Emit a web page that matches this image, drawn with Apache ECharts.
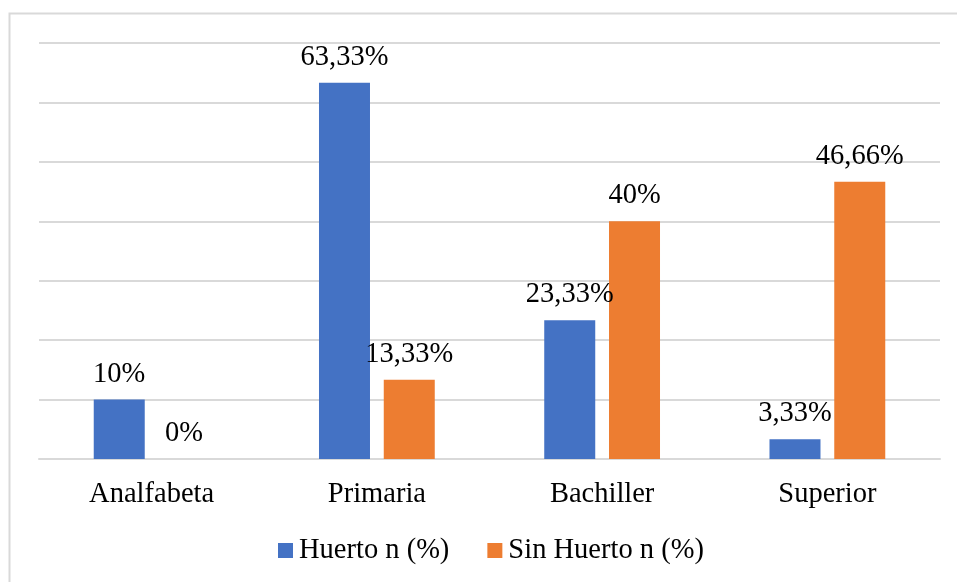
<!DOCTYPE html>
<html>
<head>
<meta charset="utf-8">
<script src="https://cdn.jsdelivr.net/npm/echarts@6/dist/echarts.min.js"></script>
<style>
  html, body { margin: 0; padding: 0; background: #fff; }
  #chart { width: 957px; height: 582px; }
</style>
</head>
<body>
<div id="chart"></div>
<script>
// categorías y valores (%)
var categories = ['Analfabeta', 'Primaria', 'Bachiller', 'Superior'];
var huerto = [10, 63.33, 23.33, 3.33];
var sinHuerto = [0, 13.33, 40, 46.66];
var huertoLabels = ['10%', '63,33%', '23,33%', '3,33%'];
var sinHuertoLabels = ['0%', '13,33%', '40%', '46,66%'];
var seriesNames = ['Huerto n (%)', 'Sin Huerto n (%)'];

var font = '"Liberation Serif", "Times New Roman", serif';
var myChart = echarts.init(document.getElementById('chart'));

function labelOpt(texts) {
  return {
    show: true,
    position: 'top',
    distance: 11,
    fontFamily: font,
    fontSize: 28.5,
    color: '#000',
    formatter: function (p) { return texts[p.dataIndex]; }
  };
}

var option = {
  backgroundColor: '#fff',
  animation: false,
  graphic: [{
    type: 'rect',
    shape: { x: 9.5, y: 13.5, width: 960, height: 600 },
    style: { fill: 'none', stroke: '#d9d9d9', lineWidth: 2 },
    silent: true
  }],
  grid: { left: 39, right: 17, top: 43, bottom: 123 },
  legend: {
    bottom: 12,
    left: 273,
    itemWidth: 15,
    itemHeight: 15,
    itemGap: 38,
    icon: 'rect',
    textStyle: { fontFamily: font, fontSize: 28.5, color: '#000', padding: [0, 0, 0, 1] },
    data: seriesNames
  },
  xAxis: {
    type: 'category',
    data: categories,
    axisLine: { lineStyle: { color: '#d9d9d9', width: 2 } },
    axisTick: { show: false },
    axisLabel: { fontFamily: font, fontSize: 28.5, color: '#000', margin: 21 }
  },
  yAxis: {
    type: 'value',
    min: 0,
    max: 70,
    interval: 10,
    axisLabel: { show: false },
    axisLine: { show: false },
    axisTick: { show: false },
    splitLine: { lineStyle: { color: '#d9d9d9', width: 2 } }
  },
  series: [
    {
      name: seriesNames[0],
      type: 'bar',
      data: huerto,
      barWidth: 51,
      barGap: '27%',
      itemStyle: { color: '#4472C4' },
      label: labelOpt(huertoLabels)
    },
    {
      name: seriesNames[1],
      type: 'bar',
      data: sinHuerto,
      barWidth: 51,
      barGap: '27%',
      itemStyle: { color: '#ED7D31' },
      label: labelOpt(sinHuertoLabels)
    }
  ]
};
myChart.setOption(option, true);
</script>
</body>
</html>
